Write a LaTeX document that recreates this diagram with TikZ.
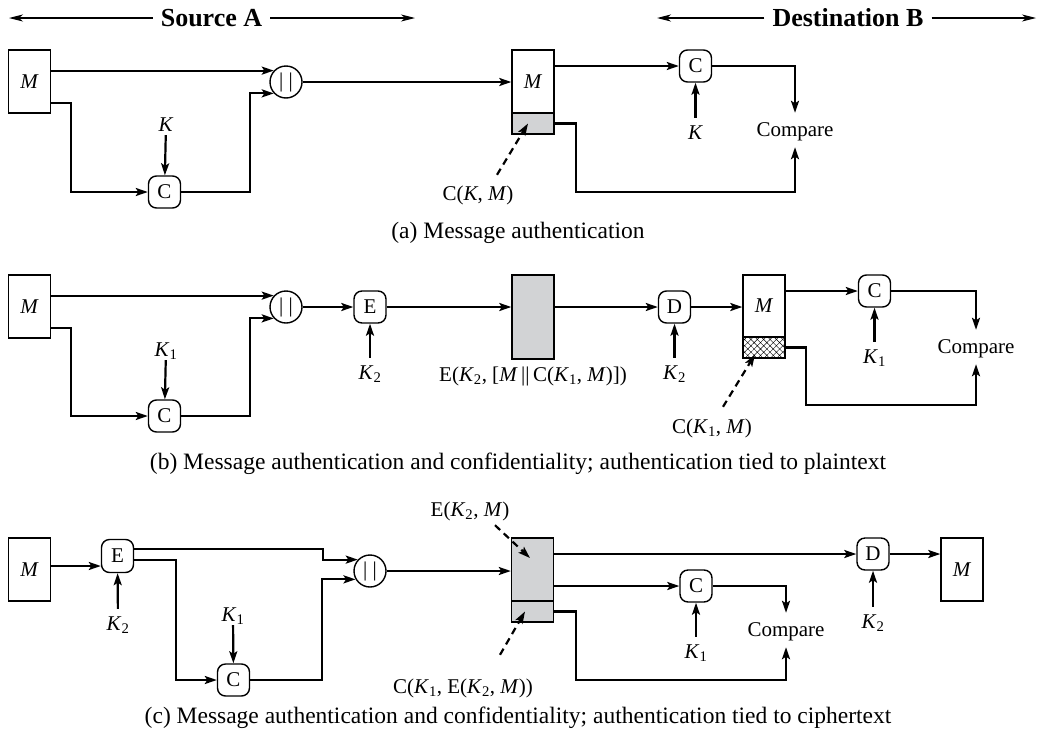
\documentclass[tikz,border=0pt]{standalone}
\usepackage{fontspec}
\setmainfont{Liberation Serif}
\usetikzlibrary{arrows.meta,patterns.meta}
\definecolor{boxgray}{RGB}{210,211,213}

\begin{document}
\begin{tikzpicture}[x=1pt, y=-1pt, >={Stealth[length=12pt,width=8pt,inset=2.5pt]},
  font=\fontsize{21}{24}\selectfont,
  flow/.style={->, line width=2.2pt},
  keyup/.style={flow, shorten <=5pt},
  ptr/.style={->, line width=2.2pt, dash pattern=on 7pt off 5pt},
  msg/.style={draw, line width=1.4pt, minimum width=42pt, minimum height=63pt, inner sep=0pt},
  tag/.style={draw, line width=1.4pt, minimum width=42pt, minimum height=21pt, inner sep=0pt},
  fn/.style={draw, line width=1.4pt, rounded corners=8pt, minimum width=32pt, minimum height=32pt, inner sep=0pt},
  cat/.style={draw, circle, line width=1.4pt, minimum size=32pt, inner sep=0pt},
  lbl/.style={text height=15pt, text depth=3pt, inner sep=1pt},
  cmp/.style={lbl, inner ysep=8pt},
  subcap/.style={font=\fontsize{23.5}{27}\selectfont},
  head/.style={font=\fontsize{26}{30}\selectfont\bfseries, inner xsep=8pt},
  hline/.style={->, line width=1.1pt, >={Stealth[length=14pt,width=7pt,inset=4pt]}}]

\useasboundingbox (0,0) rectangle (1038,734);

% headings
\node[head] (src) at (211.5,18) {Source A};
\coordinate (srcL) at (9,18);
\coordinate (srcR) at (415,18);
\draw[hline] (src.west) -- (srcL);
\draw[hline] (src.east) -- (srcR);
\node[head] (dst) at (848,18) {Destination B};
\coordinate (dstL) at (657,18);
\coordinate (dstR) at (1036,18);
\draw[hline] (dst.west) -- (dstL);
\draw[hline] (dst.east) -- (dstR);

% (a)
\node[msg] (Ma) at (29.5,81.5) {\textit{M}};
\node[cat] (Ja) at (286,82) {| |};
\node[fn] (Ca) at (164.5,192) {C};
\node[lbl] (Ka) at (166,125) {\textit{K}};
\node[msg] (Ra) at (533,81.5) {\textit{M}};
\node[tag, fill=boxgray] (Ta) at (533,123.5) {};
\node[fn] (CRa) at (695.5,66) {C};
\node[lbl] (KRa) at (695.5,133) {\textit{K}};
\node[cmp] (Pa) at (795,130) {Compare};
\node[lbl] (La) at (478,194) {C(\textit{K}, \textit{M})};
\node[subcap] (capA) at (518,233) {(a) Message authentication};

\draw[flow] (Ma.east |- Ja.137) -- (Ja.137);
\draw[flow] ([yshift=-21.5pt]Ma.east) -- ++(20,0) |- (Ca);
\draw[flow] (Ka) -- (Ca);
\draw[flow] (Ca.east) -- ++(69,0) |- (Ja.223);
\draw[flow] (Ja) -- (Ja -| Ra.west);
\draw[flow] (Ra.east |- CRa) -- (CRa);
\draw[flow] (CRa) -| (Pa);
\draw[keyup] (KRa) -- (CRa);
\draw[flow] (Ta.east) -- ++(21,0) -- ++(0,68.5) -| (Pa);
\draw[ptr] ([xshift=19pt,yshift=9pt]La.north) -- ([xshift=-5pt]Ta.center);

% (b)
\node[msg] (Mb) at (29.5,306.5) {\textit{M}};
\node[cat] (Jb) at (286,307) {| |};
\node[fn] (Cb) at (164.5,416) {C};
\node[lbl] (Kb) at (166,350) {\textit{K}\textsubscript{1}};
\node[fn] (Eb) at (370,307) {E};
\node[lbl] (KEb) at (370,373) {\textit{K}\textsubscript{2}};
\node[draw, fill=boxgray, line width=1.4pt, minimum width=42pt, minimum height=84pt] (Gb) at (533,317) {};
\node[lbl] (Lb) at (533,375) {E(\textit{K}\textsubscript{2}, [\textit{M}\,||\,C(\textit{K}\textsubscript{1}, \textit{M})])};
\node[fn] (Db) at (674.5,307) {D};
\node[lbl] (KDb) at (674.5,373) {\textit{K}\textsubscript{2}};
\node[msg, minimum height=62pt] (Rb) at (764,306) {\textit{M}};
\node[tag, pattern={Hatch[angle=45,distance=4.5pt,line width=0.4pt]}] (Tb) at (764,347.5) {};
\node[fn] (CRb) at (874.5,291) {C};
\node[lbl] (KRb) at (874.5,357) {\textit{K}\textsubscript{1}};
\node[cmp] (Pb) at (976,347) {Compare};
\node[lbl] (Lt) at (712,427) {C(\textit{K}\textsubscript{1}, \textit{M})};
\node[subcap] (capB) at (518,464) {(b) Message authentication and confidentiality; authentication tied to plaintext};

\draw[flow] (Mb.east |- Jb.137) -- (Jb.137);
\draw[flow] ([yshift=-21.5pt]Mb.east) -- ++(20,0) |- (Cb);
\draw[flow] (Kb) -- (Cb);
\draw[flow] (Cb.east) -- ++(69,0) |- (Jb.223);
\draw[flow] (Jb) -- (Eb);
\draw[keyup] (KEb) -- (Eb);
\draw[flow] (Eb) -- (Eb -| Gb.west);
\draw[flow] (Gb.east |- Db) -- (Db);
\draw[keyup] (KDb) -- (Db);
\draw[flow] (Db) -- (Db -| Rb.west);
\draw[flow] (Rb.east |- CRb) -- (CRb);
\draw[flow] (CRb) -| (Pb);
\draw[keyup] (KRb) -- (CRb);
\draw[flow] (Tb.east) -- ++(21,0) -- ++(0,57.5) -| (Pb);
\draw[ptr] ([xshift=11pt,yshift=10pt]Lt.north) -- ([xshift=-9pt,yshift=-7pt]Tb.center);

% (c)
\node[msg] (Mc) at (29.5,569.5) {\textit{M}};
\node[fn, minimum height=33pt] (Ec) at (117.5,556) {E};
\node[lbl] (KEc) at (118,624) {\textit{K}\textsubscript{2}};
\node[fn] (Cc) at (233.5,680) {C};
\node[lbl] (Kc) at (233,615) {\textit{K}\textsubscript{1}};
\node[cat] (Jc) at (370,571) {| |};
\node[msg, fill=boxgray] (Gc) at (532.5,569.5) {};
\node[tag, fill=boxgray] (Tc) at (532.5,611.5) {};
\node[lbl] (Le) at (470,510) {E(\textit{K}\textsubscript{2}, \textit{M})};
\node[lbl] (Lc) at (463,687) {C(\textit{K}\textsubscript{1}, E(\textit{K}\textsubscript{2}, \textit{M}))};
\node[fn] (Dc) at (873,554) {D};
\node[lbl] (KDc) at (873,622) {\textit{K}\textsubscript{2}};
\node[msg] (Oc) at (962,569.5) {\textit{M}};
\node[fn] (CRc) at (696,586) {C};
\node[lbl] (KRc) at (696,652) {\textit{K}\textsubscript{1}};
\node[cmp] (Pc) at (786,630) {Compare};
\node[subcap] (capC) at (518,718) {(c) Message authentication and confidentiality; authentication tied to ciphertext};

\draw[flow] ([yshift=3.5pt]Mc.east) -- ([yshift=3.5pt]Mc.east -| Ec.west);
\draw[flow] ([yshift=7pt]Ec.east) -- ++(189,0) |- (Jc.137);
\draw[flow] ([yshift=-4pt]Ec.east) -- ++(42,0) |- (Cc);
\draw[flow] (Kc) -- (Cc);
\draw[keyup] (KEc) -- (Ec);
\draw[flow] (Cc.east) -- ++(72,0) |- (Jc.210);
\draw[flow] (Jc) -- (Jc -| Gc.west);
\draw[flow] (Gc.east |- Dc) -- (Dc);
\draw[flow] (Dc) -- (Dc -| Oc.west);
\draw[keyup] (KDc) -- (Dc);
\draw[flow] (Gc.east |- CRc) -- (CRc);
\draw[flow] (CRc) -| (Pc);
\draw[keyup] (KRc) -- (CRc);
\draw[flow] (Tc.east) -- ++(22,0) -- ++(0,68.5) -| (Pc);
\draw[ptr] ([xshift=25pt,yshift=-5pt]Le.south) -- ([xshift=-2.5pt,yshift=11.5pt]Gc.center);
\draw[ptr] ([xshift=37pt,yshift=22pt]Lc.north) -- ([xshift=-7.5pt]Tc.center);
\end{tikzpicture}
\end{document}
